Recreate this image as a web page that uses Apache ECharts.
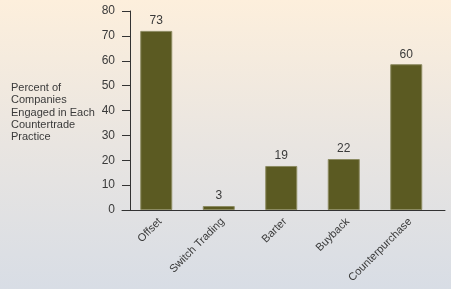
<!DOCTYPE html>
<html><head><meta charset="utf-8">
<script src="https://cdn.jsdelivr.net/npm/echarts@6/dist/echarts.min.js"></script>
<style>html,body{margin:0;padding:0;}#c{width:451px;height:289px;background:linear-gradient(to bottom,#fdefdc 0%,#e9e5e1 50%,#d8dde5 100%);}</style>
</head><body><div id="c"></div>
<script>
const categories = ['Offset', 'Switch Trading', 'Barter', 'Buyback', 'Counterpurchase'];
const barValues = [72, 1.6, 17.7, 20.5, 58.6];
const labelValues = ['73', '3', '19', '22', '60'];
const yTicks = [0, 10, 20, 30, 40, 50, 60, 70, 80];
const yTitle = 'Percent of\nCompanies\nEngaged in Each\nCountertrade\nPractice';

const chart = echarts.init(document.getElementById('c'), null, {renderer: 'canvas'});
const font = 'Liberation Sans, Arial, sans-serif';
chart.setOption({
  animation: false,
  title: {
    text: yTitle, left: 11, top: 82, padding: 0,
    textStyle: {fontFamily: font, fontSize: 11, fontWeight: 'normal', color: '#3a3a3a', lineHeight: 12.3}
  },
  grid: [
    {left: 125, top: 11, width: 312.5, bottom: 79, containLabel: false},
    {left: 122, top: 11, right: 6, bottom: 79, containLabel: false}
  ],
  xAxis: [
    {
      type: 'category', data: categories, gridIndex: 0,
      axisLine: {show: false},
      axisTick: {show: false},
      axisLabel: {rotate: 45, margin: 6, verticalAlign: 'top', fontFamily: font, fontSize: 11, color: '#3a3a3a', interval: 0}
    },
    {
      type: 'value', gridIndex: 1, min: 0, max: 1,
      axisLine: {show: true, lineStyle: {color: '#333', width: 1}},
      axisTick: {show: false}, axisLabel: {show: false}, splitLine: {show: false}
    }
  ],
  yAxis: [
    {
      type: 'value', gridIndex: 0, min: yTicks[0], max: yTicks[yTicks.length - 1], interval: 10,
      offset: -5,
      axisLine: {show: true, lineStyle: {color: '#333', width: 1}},
      axisTick: {show: true, length: 8, lineStyle: {color: '#333'}},
      axisLabel: {margin: 15, fontFamily: font, fontSize: 12, color: '#3a3a3a'},
      splitLine: {show: false}
    },
    {
      type: 'value', gridIndex: 1, min: 0, max: 1, show: false
    }
  ],
  series: [{
    type: 'bar', data: barValues, xAxisIndex: 0, yAxisIndex: 0,
    barWidth: 32,
    itemStyle: {color: '#5b5a22', borderColor: '#8c8b62', borderWidth: 1},
    label: {
      show: true, position: 'top', distance: 4,
      fontFamily: font, fontSize: 12, color: '#3a3a3a',
      formatter: p => labelValues[p.dataIndex]
    }
  }]
});
</script></body></html>
